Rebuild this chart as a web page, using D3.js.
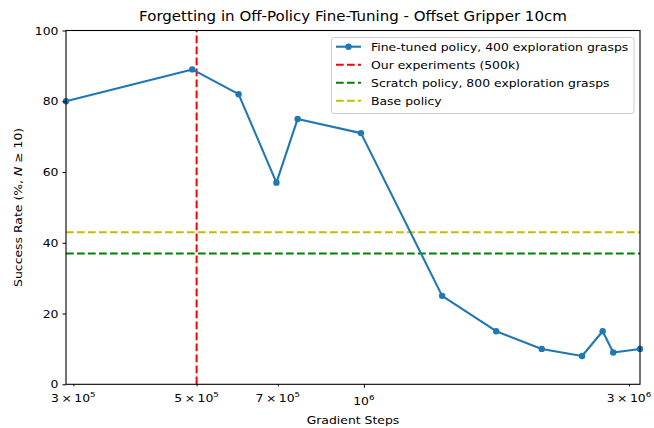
<!DOCTYPE html>
<html>
<head>
<meta charset="utf-8">
<script src="https://cdn.jsdelivr.net/npm/d3@7"></script>
<style>
  body { margin: 0; background: #fff; }
  svg { font-family: 'DejaVu Sans', sans-serif; }
</style>
</head>
<body>
<svg id="chart" width="654" height="428"></svg>
<script>
// Données
const steps = [291000, 491000, 595000, 696000, 760000, 988000, 1383000, 1730000, 2090000, 2470000, 2690000, 2810000, 3140000];
const successRate = [80, 89, 82, 57, 75, 71, 25, 15, 10, 8, 15, 9, 10];
const ourExperiment = 500000;
const scratchPolicy = 37;
const basePolicy = 43;
const xTicks = [3e5, 5e5, 7e5, 1e6, 3e6];
const yTicks = [0, 20, 40, 60, 80, 100];
const legendLabels = [
	'Fine-tuned policy, 400 exploration grasps',
	'Our experiments (500k)',
	'Scratch policy, 800 exploration grasps',
	'Base policy'
];
const legendColors = ['#1f77b4', '#ff0000', '#008000', '#bfbf00'];

const svg = d3.select('#chart');
const margin = { left: 66, right: 14, top: 30.5, bottom: 43.7 };
const width = 654, height = 428;
const stretch = 1.13; // le texte de l'image est un peu élargi
const fs = 11;

const xScale = d3.scaleLog()
	.domain([steps[0], steps[steps.length - 1]])
	.range([margin.left, width - margin.right]);

const yScale = d3.scaleLinear()
	.domain([0, 100])
	.range([height - margin.bottom, margin.top]);

const x0 = margin.left, x1 = width - margin.right;
const y0 = height - margin.bottom, y1 = margin.top;

// petit utilitaire pour placer un texte élargi
const addText = (parent, x, y, size, anchor) =>
	parent.append('text')
		.attr('transform', `translate(${x},${y}) scale(${stretch},1)`)
		.attr('text-anchor', anchor)
		.attr('font-size', size)
		.attr('fill', '#000');

// Lignes horizontales et verticale
const dash = '7.7,3.3';
const hline = (v, color) => svg.append('line')
	.attr('x1', x0).attr('x2', x1)
	.attr('y1', yScale(v)).attr('y2', yScale(v))
	.attr('stroke', color).attr('stroke-width', 2).attr('stroke-dasharray', dash);
hline(basePolicy, legendColors[3]);
hline(scratchPolicy, legendColors[2]);
svg.append('line')
	.attr('x1', xScale(ourExperiment)).attr('x2', xScale(ourExperiment))
	.attr('y1', y0).attr('y2', y1)
	.attr('stroke', legendColors[1]).attr('stroke-width', 2).attr('stroke-dasharray', dash);

// Courbe principale
const data = steps.map((s, i) => [s, successRate[i]]);
const line = d3.line().x((d) => xScale(d[0])).y((d) => yScale(d[1]));

svg.append('path')
	.datum(data)
	.attr('d', line)
	.attr('fill', 'none')
	.attr('stroke', legendColors[0])
	.attr('stroke-width', 2.1)
	.attr('stroke-linejoin', 'round');

svg.selectAll('circle.pt')
	.data(data)
	.enter()
	.append('circle')
	.attr('class', 'pt')
	.attr('cx', (d) => xScale(d[0]))
	.attr('cy', (d) => yScale(d[1]))
	.attr('r', 3.2)
	.attr('fill', legendColors[0]);

// Cadre
svg.append('rect')
	.attr('x', x0).attr('y', y1)
	.attr('width', x1 - x0).attr('height', y0 - y1)
	.attr('fill', 'none').attr('stroke', '#000').attr('stroke-width', 1.1);

// Axe Y
const yAxis = svg.append('g')
	.attr('transform', `translate(${x0},0)`)
	.call(d3.axisLeft(yScale).tickValues(yTicks).tickSize(3.5).tickFormat(() => ''));
yAxis.select('.domain').remove();
yTicks.forEach((t) => {
	addText(svg, x0 - 7.5, yScale(t) + 4, fs, 'end').text(t);
});

// Axe X
const xAxis = svg.append('g')
	.attr('transform', `translate(0,${y0})`)
	.call(d3.axisBottom(xScale).tickValues(xTicks).tickSize(2).tickFormat(() => ''));
xAxis.select('.domain').remove();
xAxis.selectAll('.tick line').attr('y2', (d) => (d === 1e6 ? 3.5 : 2));

xTicks.forEach((t) => {
	const exp = Math.floor(Math.log10(t) + 1e-9);
	const mant = Math.round(t / Math.pow(10, exp));
	const txt = addText(svg, xScale(t), mant === 1 ? y0 + 21 : y0 + 18, fs, 'middle');
	if (mant === 1) {
		txt.append('tspan').text('10');
	} else {
		txt.append('tspan').text(`${mant}\u2009\u00d7\u200910`);
	}
	txt.append('tspan').attr('dy', -5).attr('font-size', 7.7).text(exp);
});

// Titres
addText(svg, (x0 + x1) / 2, 20.7, 13.3, 'middle')
	.text('Forgetting in Off-Policy Fine-Tuning - Offset Gripper 10cm');

addText(svg, (x0 + x1) / 2, 424, fs, 'middle')
	.text('Gradient Steps');

const ylab = svg.append('text')
	.attr('transform', `translate(21.5,${(y0 + y1) / 2}) rotate(-90) scale(${stretch},1)`)
	.attr('text-anchor', 'middle').attr('font-size', fs);
ylab.append('tspan').text('Success Rate (%, ');
ylab.append('tspan').attr('font-style', 'italic').text('N');
ylab.append('tspan').text(' \u2265 10)');

// Légende
const legend = svg.append('g');
legend.append('rect')
	.attr('x', 331.5).attr('y', 37.5)
	.attr('width', 302.5).attr('height', 76)
	.attr('rx', 2.5)
	.attr('fill', 'rgba(255,255,255,0.8)')
	.attr('stroke', '#cccccc').attr('stroke-width', 1);

legendLabels.forEach((lab, i) => {
	const ly = 46.7 + i * 18;
	const l = legend.append('line')
		.attr('x1', 336).attr('x2', 361)
		.attr('y1', ly).attr('y2', ly)
		.attr('stroke', legendColors[i]).attr('stroke-width', i === 0 ? 2.1 : 2);
	if (i === 0) {
		legend.append('circle').attr('cx', 348.5).attr('cy', ly).attr('r', 3.2).attr('fill', legendColors[i]);
	} else {
		l.attr('stroke-dasharray', dash);
	}
	addText(legend, 371, ly + 4, fs, 'start').text(lab);
});
</script>
</body>
</html>
